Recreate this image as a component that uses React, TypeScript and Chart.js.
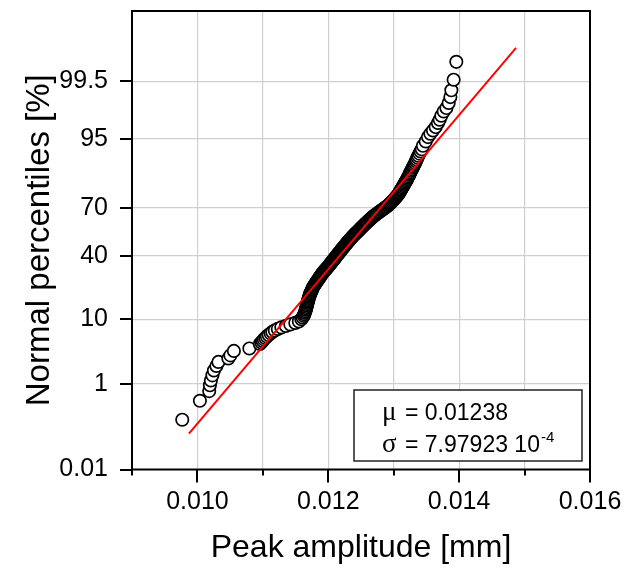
import React, { useEffect, useRef } from 'react';
import { Chart, registerables, Scale } from 'chart.js';

Chart.register(...registerables);

// ---------------- data ----------------
// Lower tail (open circles, below ~4 %)
const lowTailAmp = [0.009768, 0.010038, 0.01018, 0.010191, 0.010206, 0.010229, 0.010252, 0.01029, 0.010321, 0.010473, 0.010504, 0.010557, 0.010794];
const lowTailPct = [0.18, 0.46, 0.72, 0.93, 1.15, 1.42, 1.73, 2.07, 2.42, 2.76, 3.09, 3.63, 3.96];

// Body of the distribution (dense band)
const bodyAmp = [
  0.010954, 0.010977, 0.010997, 0.011015, 0.011038, 0.011061, 0.011089, 0.011119, 0.011145, 0.011183, 0.011229, 0.011282, 0.011351, 0.01142, 0.011496, 0.01155,
  0.011588, 0.011608, 0.011626, 0.011634, 0.011641, 0.01165, 0.011658, 0.011663, 0.011667, 0.011673,
  0.011678, 0.011683, 0.011689, 0.011693, 0.011699, 0.011704, 0.01171, 0.011715, 0.011721, 0.011728,
  0.011734, 0.011742, 0.01175, 0.011756, 0.011763, 0.011774, 0.011783, 0.011792, 0.011803, 0.011812,
  0.011823, 0.011832, 0.011841, 0.011852, 0.011861, 0.01187, 0.011881, 0.01189, 0.011899, 0.01191,
  0.011919, 0.011931, 0.011942, 0.011954, 0.011965, 0.011976, 0.011988, 0.011999, 0.012011, 0.01202,
  0.012029, 0.01204, 0.012049, 0.01206, 0.012069, 0.012079, 0.012089, 0.012099, 0.012108, 0.012118,
  0.012127, 0.012137, 0.012147, 0.012156, 0.012165, 0.012176, 0.012185, 0.012194, 0.012203, 0.012214,
  0.012223, 0.012232, 0.012243, 0.012252, 0.012261, 0.012272, 0.012281, 0.012292, 0.012301, 0.012312,
  0.012322, 0.012331, 0.012342, 0.012353, 0.012362, 0.012374, 0.012385, 0.012397, 0.012409, 0.01242,
  0.012432, 0.012444, 0.012457, 0.012469, 0.012481, 0.012493, 0.012504, 0.012516, 0.012528, 0.012541,
  0.012553, 0.012565, 0.012579, 0.012591, 0.012605, 0.012618, 0.012632, 0.012644, 0.012658, 0.012672,
  0.012687, 0.012704, 0.012721, 0.012737, 0.012756, 0.012773, 0.012789, 0.012808, 0.012826, 0.012844,
  0.012864, 0.012883, 0.012902, 0.012918, 0.012931, 0.012947, 0.01296, 0.012974, 0.012988, 0.013002,
  0.013015, 0.013028, 0.01304, 0.013053, 0.013066, 0.013078, 0.013087, 0.013096, 0.013105, 0.013115,
  0.013124, 0.013134, 0.013144, 0.013154, 0.013165, 0.013174, 0.013185, 0.013195, 0.013206, 0.013215,
  0.013226, 0.013237, 0.013246, 0.013256, 0.013267, 0.013279, 0.013292, 0.013302, 0.013315, 0.013327,
  0.013339, 0.013351, 0.013364, 0.013376, 0.013393, 0.013411, 0.013429,
];
const bodyPct = [
  4.63, 4.87, 5.12, 5.39, 5.66, 5.94, 6.23, 6.54, 6.85, 7.18, 7.52, 7.87, 8.23, 8.61, 9.0, 9.4,
  10, 10.5, 11, 11.5, 12, 12.5, 13, 13.5, 14, 14.5,
  15, 15.5, 16, 16.5, 17, 17.5, 18, 18.5, 19, 19.5,
  20, 20.5, 21, 21.5, 22, 22.5, 23, 23.5, 24, 24.5,
  25, 25.5, 26, 26.5, 27, 27.5, 28, 28.5, 29, 29.5,
  30, 30.5, 31, 31.5, 32, 32.5, 33, 33.5, 34, 34.5,
  35, 35.5, 36, 36.5, 37, 37.5, 38, 38.5, 39, 39.5,
  40, 40.5, 41, 41.5, 42, 42.5, 43, 43.5, 44, 44.5,
  45, 45.5, 46, 46.5, 47, 47.5, 48, 48.5, 49, 49.5,
  50, 50.5, 51, 51.5, 52, 52.5, 53, 53.5, 54, 54.5,
  55, 55.5, 56, 56.5, 57, 57.5, 58, 58.5, 59, 59.5,
  60, 60.5, 61, 61.5, 62, 62.5, 63, 63.5, 64, 64.5,
  65, 65.5, 66, 66.5, 67, 67.5, 68, 68.5, 69, 69.5,
  70, 70.5, 71, 71.5, 72, 72.5, 73, 73.5, 74, 74.5,
  75, 75.5, 76, 76.5, 77, 77.5, 78, 78.5, 79, 79.5,
  80, 80.5, 81, 81.5, 82, 82.5, 83, 83.5, 84, 84.5,
  85, 85.5, 86, 86.5, 87, 87.5, 88, 88.5, 89, 89.5,
  90, 90.5, 91, 91.5, 92, 92.5, 93,
];

// Upper tail (open circles, above ~93 %)
const highTailAmp = [0.013447, 0.013489, 0.013524, 0.01356, 0.0136, 0.013641, 0.013676, 0.013702, 0.013728, 0.013764, 0.013805, 0.01384, 0.013866, 0.013881, 0.013916, 0.013957];
const highTailPct = [93.73, 94.55, 95.29, 95.8, 96.25, 96.68, 97.14, 97.47, 97.83, 98.17, 98.4, 98.7, 98.99, 99.25, 99.54, 99.81];

// Normal fit line (end points)
const fitAmp = [0.00987, 0.01487];
const fitPct = [0.085, 99.91];

// Axis ticks
const xTickValues = [0.009, 0.01, 0.011, 0.012, 0.013, 0.014, 0.015, 0.016];
const xTickLabels = ['', '0.010', '', '0.012', '', '0.014', '', '0.016'];
const yTickValues = [0.01, 1, 10, 40, 70, 95, 99.5];
const yTickLabels = ['0.01', '1', '10', '40', '70', '95', '99.5'];
const yMinPct = 0.01;
const yMaxPct = 99.99;

// Fit parameters
const muText = '0.01238';
const sigmaText = '7.97923 10';
const sigmaExp = '-4';

// ---------------- probability (probit) scale ----------------
function probit(p: number): number {
  const a = [-3.969683028665376e1, 2.209460984245205e2, -2.759285104469687e2, 1.38357751867269e2, -3.066479806614716e1, 2.506628277459239];
  const b = [-5.447609879822406e1, 1.615858368580409e2, -1.556989798598866e2, 6.680131188771972e1, -1.328068155288572e1];
  const c = [-7.784894002430293e-3, -3.223964580411365e-1, -2.400758277161838, -2.549732539343734, 4.374664141464968, 2.938163982698783];
  const d = [7.784695709041462e-3, 3.224671290700398e-1, 2.445134137142996, 3.754408661907416];
  const plow = 0.02425;
  const phigh = 1 - plow;
  if (p <= 0) return -8;
  if (p >= 1) return 8;
  if (p < plow) {
    const q = Math.sqrt(-2 * Math.log(p));
    return (((((c[0] * q + c[1]) * q + c[2]) * q + c[3]) * q + c[4]) * q + c[5]) / ((((d[0] * q + d[1]) * q + d[2]) * q + d[3]) * q + 1);
  }
  if (p > phigh) {
    const q = Math.sqrt(-2 * Math.log(1 - p));
    return -(((((c[0] * q + c[1]) * q + c[2]) * q + c[3]) * q + c[4]) * q + c[5]) / ((((d[0] * q + d[1]) * q + d[2]) * q + d[3]) * q + 1);
  }
  const q = p - 0.5;
  const r = q * q;
  return ((((((a[0] * r + a[1]) * r + a[2]) * r + a[3]) * r + a[4]) * r + a[5]) * q) / (((((b[0] * r + b[1]) * r + b[2]) * r + b[3]) * r + b[4]) * r + 1);
}

function normCdf(z: number): number {
  const t = 1 / (1 + 0.2316419 * Math.abs(z));
  const dd = 0.3989423 * Math.exp((-z * z) / 2);
  const pr = dd * t * (0.3193815 + t * (-0.3565638 + t * (1.781478 + t * (-1.821256 + t * 1.330274))));
  return z > 0 ? 1 - pr : pr;
}

class ProbitScale extends (Scale as any) {
  static id = 'probit';
  static defaults = {};
  _zStart = 0;
  _zRange = 1;
  parse(raw: any) {
    return raw === null || raw === undefined ? null : +raw;
  }
  determineDataLimits() {
    const { min, max } = this.getMinMax(true);
    this.min = min;
    this.max = max;
  }
  buildTicks() {
    return yTickValues.map((v) => ({ value: v }));
  }
  configure() {
    super.configure();
    this._zStart = probit(this.min / 100);
    this._zRange = probit(this.max / 100) - this._zStart;
  }
  getLabelForValue(v: number) {
    return String(v);
  }
  getPixelForValue(v: number) {
    return this.getPixelForDecimal((probit(v / 100) - this._zStart) / this._zRange);
  }
  getValueForPixel(px: number) {
    return 100 * normCdf(this._zStart + this.getDecimalForPixel(px) * this._zRange);
  }
}
Chart.register(ProbitScale as any);

const SANS = "'Liberation Sans', Arial, sans-serif";
const SERIF = "'Liberation Serif', 'Times New Roman', serif";

const framePlugin = {
  id: 'frameAndLegend',
  afterDraw(chart: any) {
    const { ctx, chartArea } = chart;
    const { left, right, top, bottom } = chartArea;
    const xs = chart.scales.x;
    const ys = chart.scales.y;
    ctx.save();
    // ticks
    ctx.strokeStyle = '#000';
    ctx.lineWidth = 2;
    ctx.beginPath();
    xTickValues.forEach((v, i) => {
      const px = Math.round(xs.getPixelForValue(v));
      const len = xTickLabels[i] ? 13 : 6;
      ctx.moveTo(px, bottom);
      ctx.lineTo(px, bottom + len);
    });
    yTickValues.forEach((v) => {
      const py = Math.round(ys.getPixelForValue(v));
      ctx.moveTo(left - 12, py);
      ctx.lineTo(left, py);
    });
    ctx.stroke();
    // frame
    ctx.lineWidth = 2;
    ctx.strokeRect(left, top, right - left, bottom - top);

    // legend box
    const bw = 228;
    const bh = 71;
    const bx = right - 236;
    const by = bottom - 79.5;
    ctx.fillStyle = '#fff';
    ctx.fillRect(bx, by, bw, bh);
    ctx.strokeStyle = '#222';
    ctx.lineWidth = 1.5;
    ctx.strokeRect(bx, by, bw, bh);

    ctx.fillStyle = '#000';
    ctx.textBaseline = 'alphabetic';
    ctx.textAlign = 'left';
    const tx = bx + 28;
    const ex = bx + 51;
    const base1 = by + 30;
    const base2 = by + 61.5;
    ctx.font = `27px ${SERIF}`;
    ctx.fillText('\u03bc', tx, base1);
    ctx.fillText('\u03c3', tx, base2);
    ctx.font = `23px ${SANS}`;
    ctx.fillText('= ' + muText, ex, base1);
    ctx.fillText('= ' + sigmaText, ex, base2);
    const w2 = ctx.measureText('= ' + sigmaText).width;
    ctx.font = `15px ${SANS}`;
    ctx.fillText(sigmaExp, ex + w2 + 1, base2 - 10);
    ctx.restore();
  },
};

export default function App() {
  const canvasRef = useRef<HTMLCanvasElement | null>(null);

  useEffect(() => {
    document.body.style.margin = '0';
    const canvas = canvasRef.current;
    if (!canvas) return;

    const scatterData = [
      ...lowTailAmp.map((x, i) => ({ x, y: lowTailPct[i] })),
      ...bodyAmp.map((x, i) => ({ x, y: bodyPct[i] })),
      ...highTailAmp.map((x, i) => ({ x, y: highTailPct[i] })),
    ];
    const fitData = fitAmp.map((x, i) => ({ x, y: fitPct[i] }));

    const chart = new Chart(canvas, {
      type: 'scatter',
      data: {
        datasets: [
          {
            type: 'line',
            label: 'Normal fit',
            data: fitData,
            borderColor: '#ff0000',
            borderWidth: 2,
            pointRadius: 0,
            fill: false,
            order: 0,
          } as any,
          {
            type: 'scatter',
            label: 'Peak amplitude',
            data: scatterData,
            pointRadius: 6.2,
            pointBorderWidth: 1.7,
            borderColor: '#000',
            backgroundColor: '#fff',
            order: 1,
          } as any,
        ],
      },
      options: {
        animation: false,
        responsive: false,
        maintainAspectRatio: false,
        events: [],
        layout: { padding: { left: 0, right: 40, top: 11, bottom: 0 } },
        plugins: {
          legend: { display: false },
          tooltip: { enabled: false },
        },
        scales: {
          x: {
            type: 'linear',
            min: 0.009,
            max: 0.016,
            afterBuildTicks: (s: any) => {
              s.ticks = xTickValues.map((v) => ({ value: v }));
            },
            afterFit: (s: any) => {
              s.height = 107.5;
              s.paddingLeft = 0;
              s.paddingRight = 0;
            },
            grid: { color: '#cfcfcf', lineWidth: 1.2, drawTicks: false },
            border: { display: false },
            ticks: {
              callback: (_v: any, i: number) => xTickLabels[i],
              font: { family: SANS, size: 25 },
              color: '#000',
              padding: 18,
              maxRotation: 0,
              autoSkip: false,
            },
            title: {
              display: true,
              text: 'Peak amplitude [mm]',
              font: { family: SANS, size: 32 },
              color: '#000',
              padding: { top: 0, bottom: 10 },
            },
          },
          y: {
            type: 'probit' as any,
            min: yMinPct,
            max: yMaxPct,
            afterFit: (s: any) => {
              s.width = 132;
              s.paddingTop = 0;
              s.paddingBottom = 0;
            },
            grid: { color: '#cfcfcf', lineWidth: 1.2, drawTicks: false },
            border: { display: false },
            ticks: {
              callback: (v: any) => {
                const i = yTickValues.indexOf(v);
                return i >= 0 ? yTickLabels[i] : '';
              },
              font: { family: SANS, size: 25 },
              color: '#000',
              padding: 24,
              autoSkip: false,
            },
            title: {
              display: true,
              text: 'Normal percentiles [%]',
              font: { family: SANS, size: 33 },
              color: '#000',
              padding: { top: 20, bottom: 0 },
            },
          } as any,
        },
      },
      plugins: [framePlugin],
    });

    return () => {
      chart.destroy();
    };
  }, []);

  return (
    <div style={{ width: 630, height: 577 }}>
      <canvas ref={canvasRef} width={630} height={577} style={{ display: 'block' }} />
    </div>
  );
}
